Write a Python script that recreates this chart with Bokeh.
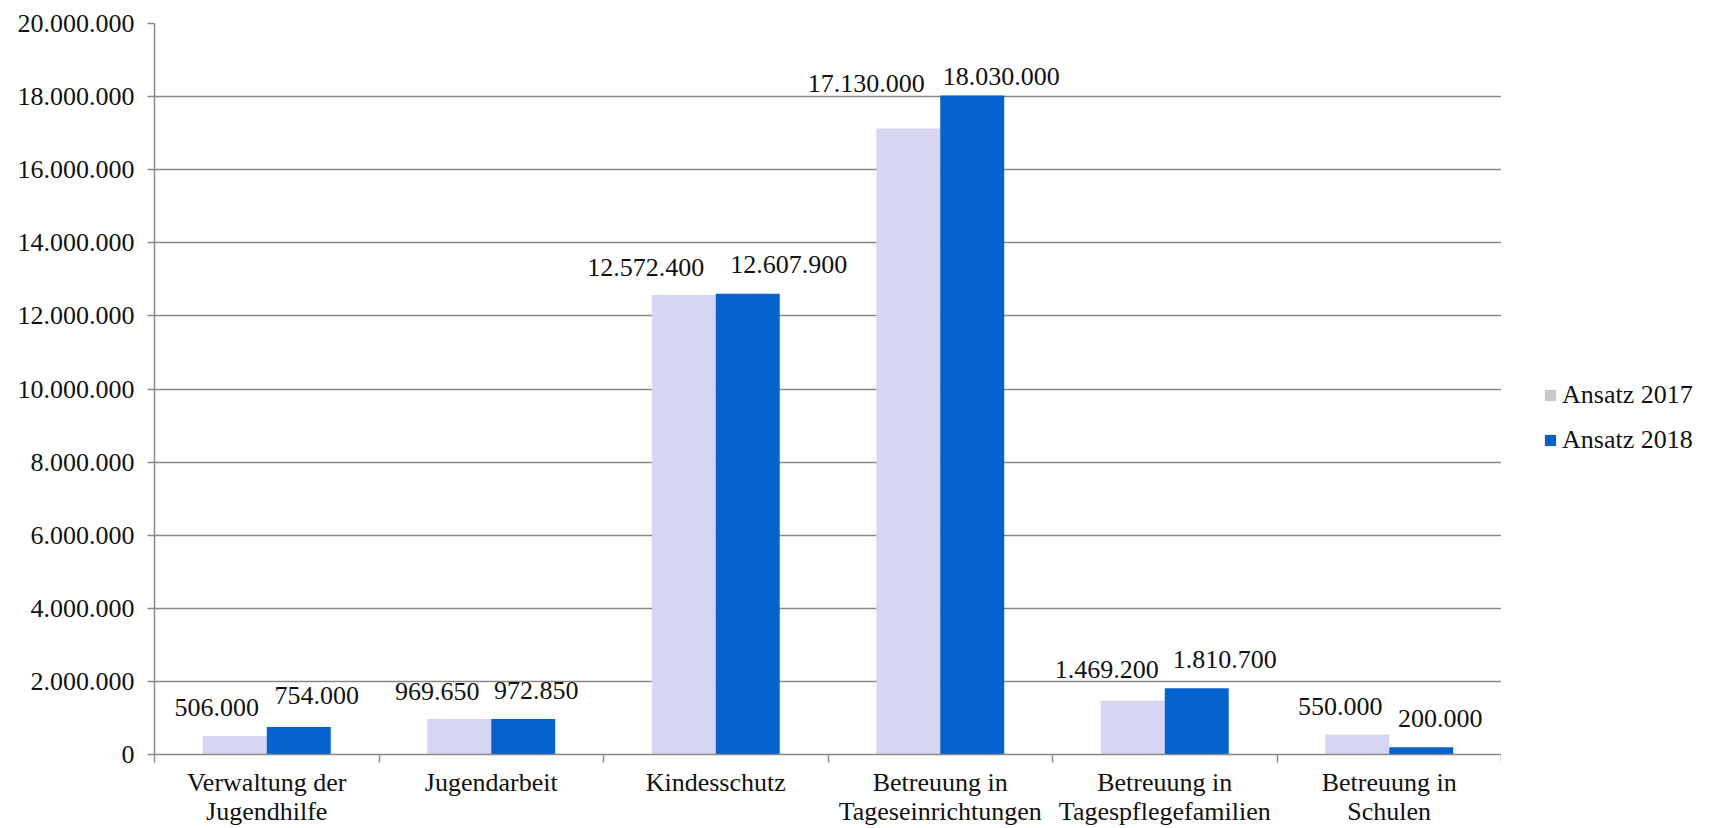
from bokeh.plotting import figure
from bokeh.layouts import row
from bokeh.models import (Range1d, FixedTicker, ColumnDataSource, Legend, LegendItem)
from bokeh.transform import dodge
from bokeh.core.properties import value
from bokeh.embed import file_html
from bokeh.resources import INLINE

# ---------------- data ----------------
categories = ["Verwaltung der Jugendhilfe", "Jugendarbeit", "Kindesschutz",
              "Betreuung in Tageseinrichtungen", "Betreuung in Tagespflegefamilien",
              "Betreuung in Schulen"]
category_labels = ["Verwaltung der\nJugendhilfe", "Jugendarbeit", "Kindesschutz",
                   "Betreuung in\nTageseinrichtungen", "Betreuung in\nTagespflegefamilien",
                   "Betreuung in\nSchulen"]
ansatz_2017 = [506000, 969650, 12572400, 17130000, 1469200, 550000]
ansatz_2018 = [754000, 972850, 12607900, 18030000, 1810700, 200000]
series_names = ["Ansatz 2017", "Ansatz 2018"]
y_ticks = list(range(0, 20000001, 2000000))

# ------------- styles (label nudges in screen px) -------------
dx_2017 = [-18, -22, -38, -42, -26, -17]
dx_2018 = [18, 13, 41, 29, 28, 19]
dy_2017 = [-29, -28, -27, -45, -31, -28]
dy_2018 = [-31, -28, -29, -19, -29, -29]

FONT = "Liberation Serif"
FS = "26px"
GREY = "#898989"
C17 = "#D6D6F3"
C18 = "#0562CC"
C17_LEGEND = "#C8C8C8"
TXT = "#111111"
BAR_W = 0.285


def de(v):
    return f"{v:,}".replace(",", ".")


n = len(categories)
centers = [i + 0.5 for i in range(n)]   # category slot centres on the x scale
edges = list(range(n + 1))              # category slot boundaries

p = figure(x_range=Range1d(0, n), y_range=Range1d(0, 20000000),
           width=1501, height=828, output_backend="svg", toolbar_location=None,
           min_border_left=154, min_border_right=0, min_border_top=23, min_border_bottom=74)
p.outline_line_color = None
p.xgrid.visible = False

yt = FixedTicker(ticks=y_ticks)
yax = p.yaxis[0]
yax.ticker = yt
yax.major_label_overrides = {t: de(t) for t in y_ticks}
yax.axis_line_color = GREY
yax.axis_line_width = 1.5
yax.major_tick_line_color = GREY
yax.major_tick_line_width = 1.5
yax.major_tick_out = 7
yax.major_tick_in = 0
yax.minor_tick_line_color = None
yax.major_label_text_font = FONT
yax.major_label_text_font_size = FS
yax.major_label_text_color = TXT
yax.major_label_standoff = 13
p.ygrid.ticker = yt
p.ygrid.grid_line_color = GREY
p.ygrid.grid_line_width = 1.5

xax = p.xaxis[0]
xax.ticker = FixedTicker(ticks=centers, minor_ticks=edges)
xax.major_label_overrides = dict(zip(centers, category_labels))
xax.axis_line_color = GREY
xax.axis_line_width = 1.5
xax.major_tick_line_color = None
xax.major_tick_out = 0
xax.major_tick_in = 0
xax.minor_tick_line_color = GREY
xax.minor_tick_line_width = 1.5
xax.minor_tick_out = 8
xax.minor_tick_in = 0
xax.major_label_text_font = FONT
xax.major_label_text_font_size = FS
xax.major_label_text_color = TXT
xax.major_label_text_line_height = 1.0
xax.major_label_standoff = 5

src = ColumnDataSource(dict(xc=centers, cat=categories, a17=ansatz_2017, a18=ansatz_2018,
                            t17=[de(v) for v in ansatz_2017], t18=[de(v) for v in ansatz_2018],
                            dx17=dx_2017, dx18=dx_2018, dy17=dy_2017, dy18=dy_2018))

p.vbar(x=dodge("xc", -BAR_W / 2), top="a17", width=BAR_W,
       source=src, fill_color=C17, line_color=None)
p.vbar(x=dodge("xc", BAR_W / 2), top="a18", width=BAR_W,
       source=src, fill_color=C18, line_color=None)

p.text(x=dodge("xc", -BAR_W / 2), y="a17", text="t17", source=src,
       x_offset="dx17", y_offset="dy17", text_align="center", text_baseline="alphabetic",
       text_font=value(FONT), text_font_size=value(FS), text_color=TXT)
p.text(x=dodge("xc", BAR_W / 2), y="a18", text="t18", source=src,
       x_offset="dx18", y_offset="dy18", text_align="center", text_baseline="alphabetic",
       text_font=value(FONT), text_font_size=value(FS), text_color=TXT)

# ---------------- legend panel (2017 swatch is grey in the original) ----------------
pl = figure(width=214, height=828, output_backend="svg", toolbar_location=None,
            x_axis_location=None, y_axis_location=None,
            x_range=Range1d(0, 1), y_range=Range1d(0, 1),
            min_border_left=0, min_border_right=0, min_border_top=0, min_border_bottom=0)
pl.outline_line_color = None
pl.grid.visible = False
r17 = pl.vbar(x="xc", top="a17", width=BAR_W, source=src, fill_color=C17_LEGEND,
              line_color=None, visible=False)
r18 = pl.vbar(x="xc", top="a18", width=BAR_W, source=src, fill_color=C18,
              line_color=None, visible=False)
legend = Legend(items=[LegendItem(label=series_names[0], renderers=[r17]),
                       LegendItem(label=series_names[1], renderers=[r18])],
                location=(42, 299), orientation="vertical",
                glyph_width=14, glyph_height=14, label_standoff=5,
                padding=0, margin=0, spacing=15, label_height=30,
                label_text_font=FONT, label_text_font_size=FS, label_text_color=TXT,
                border_line_color=None, background_fill_alpha=0)
pl.add_layout(legend)

layout = row(p, pl, spacing=0)
open("out.html", "w").write(file_html(layout, INLINE))
